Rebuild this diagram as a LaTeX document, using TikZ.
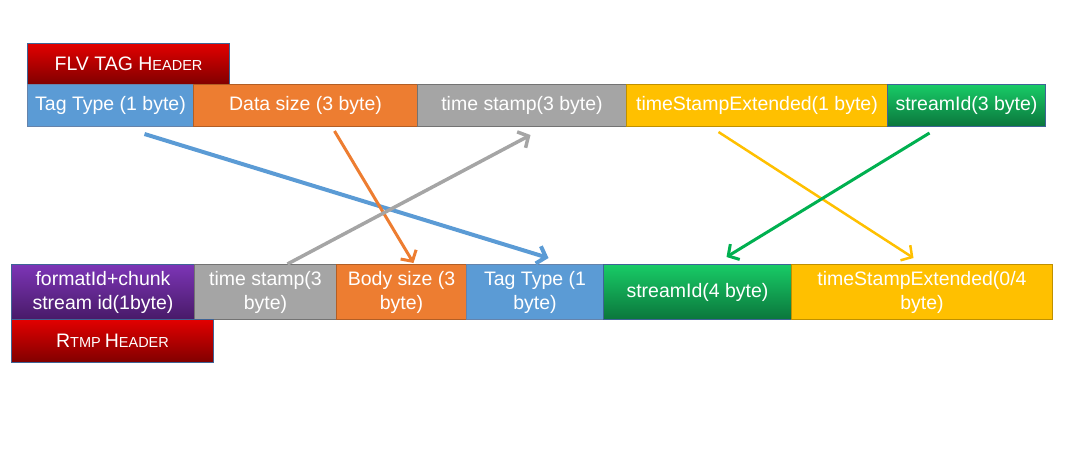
\documentclass[tikz,border=0pt]{standalone}
\usepackage{fontspec}
\setmainfont{Liberation Sans}
\usetikzlibrary{arrows.meta,calc}
\definecolor{tagblue}{RGB}{91,155,213}
\definecolor{tagorange}{RGB}{237,125,49}
\definecolor{taggray}{RGB}{165,165,165}
\definecolor{tagyellow}{RGB}{255,192,0}
\definecolor{taggreen}{RGB}{0,176,80}
\definecolor{greentop}{RGB}{24,203,102}
\definecolor{greenbot}{RGB}{11,118,60}
\definecolor{purptop}{RGB}{124,53,182}
\definecolor{purpbot}{RGB}{72,26,104}
\definecolor{redtop}{RGB}{226,0,0}
\definecolor{redbot}{RGB}{128,0,0}
\definecolor{edgeblue}{RGB}{62,100,150}
\newcommand{\bigsc}[2]{{\fontsize{19.5}{24}\selectfont #1}{\fontsize{14.5}{24}\selectfont #2}}
\begin{document}
\begin{tikzpicture}[x=1pt,y=-1pt,
    field/.style={anchor=north west,inner sep=0pt,text=white,align=center,
      font=\fontsize{19.5}{24}\selectfont,line width=1pt},
    header/.style={field,draw=edgeblue,top color=redtop,bottom color=redbot},
    link/.style={line width=#1,-{Straight Barb[length=8pt,width=18pt]}}]
    \useasboundingbox (0,0) rectangle (1072,475);
    % FLV tag header
    \node[header,minimum width=202pt,minimum height=41pt] (flvhead) at (27,43) {\bigsc{FLV TAG H}{EADER}};
    \node[field,draw=edgeblue!80,fill=tagblue,minimum width=166pt,minimum height=42pt] (tagtype) at (27,84) {Tag Type (1 byte)};
    \node[field,draw=tagorange!75!black,fill=tagorange,minimum width=224pt,minimum height=42pt] (datasize) at (193,84) {Data size (3 byte)};
    \node[field,draw=taggray!70!black,fill=taggray,minimum width=209pt,minimum height=42pt] (timestamp) at (417,84) {time stamp(3 byte)};
    \node[field,draw=tagyellow!75!black,fill=tagyellow,minimum width=261pt,minimum height=42pt] (tsext) at (626,84) {timeStampExtended(1 byte)};
    \node[field,draw=edgeblue,top color=greentop,bottom color=greenbot,minimum width=158pt,minimum height=42pt] (streamid) at (887,84) {streamId(3 byte)};
    % RTMP header
    \node[field,draw=edgeblue,top color=purptop,bottom color=purpbot,minimum width=183pt,minimum height=55pt] (fmtid) at (11,264) {formatId+chunk\\stream id(1byte)};
    \node[field,draw=taggray!70!black,fill=taggray,minimum width=142pt,minimum height=55pt] (rtimestamp) at (194,264) {time stamp(3\\byte)};
    \node[field,draw=tagorange!75!black,fill=tagorange,minimum width=130pt,minimum height=55pt] (bodysize) at (336,264) {Body size (3\\byte)};
    \node[field,draw=edgeblue!80,fill=tagblue,minimum width=137pt,minimum height=55pt] (rtagtype) at (466,264) {Tag Type (1\\byte)};
    \node[field,draw=edgeblue,top color=greentop,bottom color=greenbot,minimum width=188pt,minimum height=55pt] (rstreamid) at (603,264) {streamId(4 byte)};
    \node[field,draw=tagyellow!75!black,fill=tagyellow,minimum width=261pt,minimum height=55pt] (rtsext) at (791,264) {timeStampExtended(0/4\\byte)};
    \node[header,minimum width=202pt,minimum height=43pt] (rtmphead) at (11,319) {\bigsc{R}{TMP }\bigsc{H}{EADER}};
    % mapping
    \draw[link=4pt,tagblue] ($(tagtype.south)+(34,7)$) -- ($(rtagtype.north)+(13.5,-6)$);
    \draw[link=3pt,tagorange] ($(datasize.south)+(29,4)$) -- ($(bodysize.north)+(12,-1)$);
    \draw[link=3.5pt,taggray] ($(rtimestamp.north)+(22,0)$) -- ($(timestamp.south)+(8.5,8)$);
    \draw[link=2.5pt,tagyellow] ($(tsext.south)+(-38.5,5)$) -- ($(rtsext.north)+(-8.5,-6)$);
    \draw[link=3pt,taggreen] ($(streamid.south)+(-37,6)$) -- ($(rstreamid.north)+(29,-7)$);
\end{tikzpicture}
\end{document}
